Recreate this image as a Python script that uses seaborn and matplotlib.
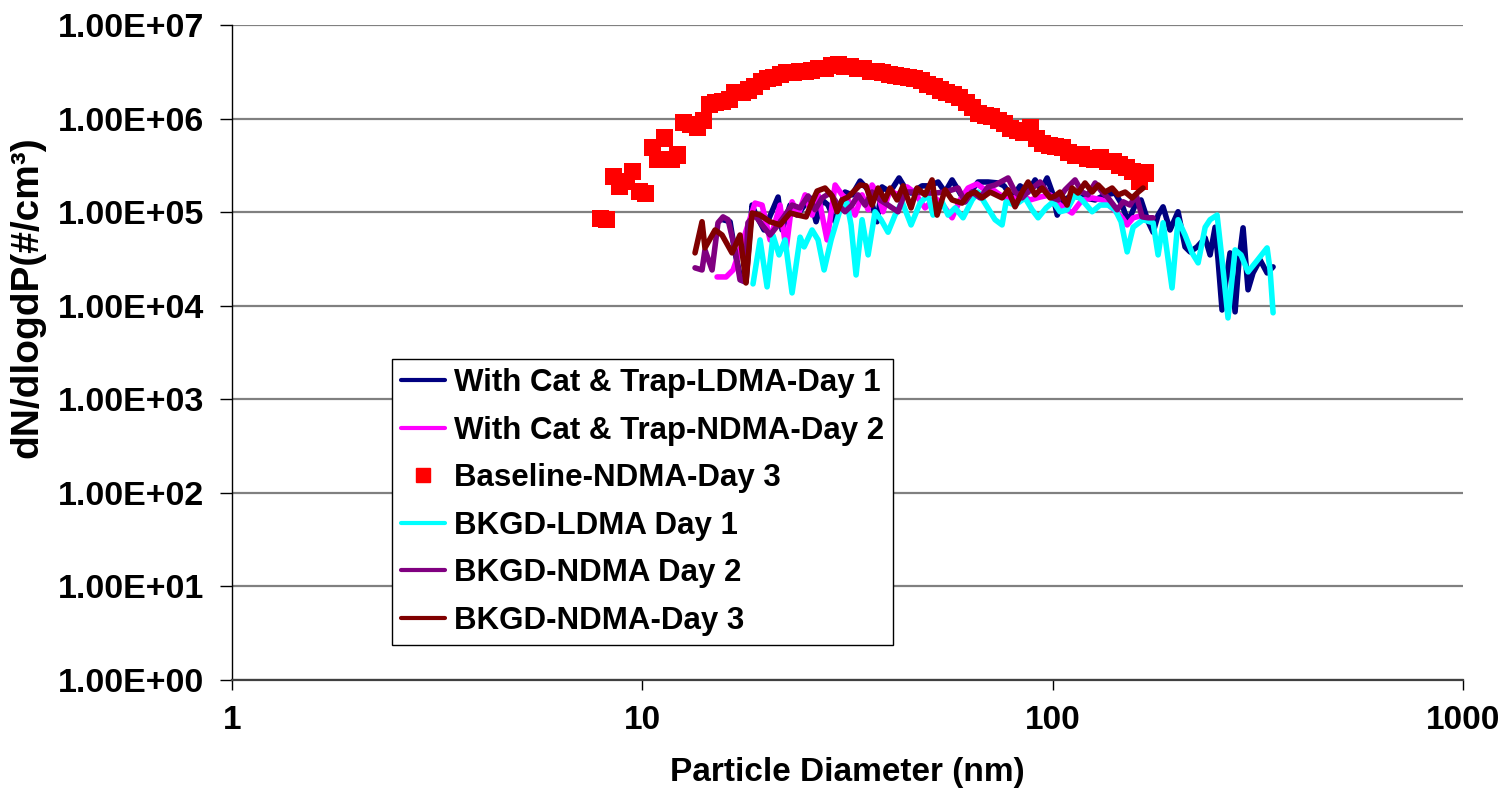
import numpy as np
import pandas as pd
import matplotlib
matplotlib.use("Agg")
import matplotlib.pyplot as plt
import seaborn as sns
from matplotlib.lines import Line2D
from matplotlib.ticker import FixedLocator, FuncFormatter, NullLocator

# ---- particle size distributions (diameter in nm, dN/dlogDp in #/cm3) ----
cat_ldma_d1_dp = [15.73, 16.36, 16.83, 17.40, 17.89, 18.51, 18.93, 19.80, 21.42, 21.90,
                  22.91, 23.83, 25.63, 26.51, 27.42, 28.36, 29.50, 31.19, 32.44, 33.94,
                  35.5, 37.33, 38.39, 40.15, 42.23, 43.68, 45.18, 48.06, 50.26, 52.57,
                  54.68, 56.87, 58.81, 61.16, 63.62, 65.79, 69.6, 73.61, 76.14, 79.63,
                  83.29, 87.12, 90.62, 93.72, 96.93, 99.71, 102.6, 106.0, 111.5, 119.9,
                  126.9, 134.2, 142.0, 147.7, 152.7, 158.9, 164.2, 170.9, 175.7, 180.7,
                  185.8, 193.2, 202.1, 210.2, 216.2, 224.9, 235.3, 241.9, 248.8, 253.0,
                  258.7, 264.6, 270.6, 278.3, 284.6, 291.1, 299.3, 307.8, 320.2, 333.1,
                  344.5]
cat_ldma_d1_dn = [8.3e4, 7.9e4, 3.67e4, 1.89e4, 1.80e4, 1.19e5, 9.3e4, 6.45e4, 1.45e5, 6.45e4,
                  1.19e5, 9.3e4, 1.42e5, 7.9e4, 1.35e5, 1.19e5, 7.9e4, 1.64e5, 1.53e5, 2.15e5,
                  1.73e5, 7.9e4, 1.86e5, 1.64e5, 2.32e5, 1.81e5, 1.60e5, 1.91e5, 1.91e5, 2.10e5,
                  1.64e5, 2.21e5, 1.73e5, 1.29e5, 1.73e5, 2.10e5, 2.10e5, 2.05e5, 1.91e5, 1.42e5,
                  1.91e5, 1.64e5, 2.21e5, 1.73e5, 2.32e5, 1.64e5, 9.3e4, 1.35e5, 1.49e5, 1.42e5,
                  1.35e5, 1.53e5, 1.60e5, 1.19e5, 7.9e4, 1.19e5, 1.35e5, 7.9e4, 6.1e4, 9.3e4,
                  1.14e5, 6.45e4, 1.01e5, 4.25e4, 3.76e4, 4.25e4, 5.3e4, 3.49e4, 6.9e4, 3.09e4,
                  9.0e3, 1.89e4, 3.67e4, 8.6e3, 3.09e4, 6.8e4, 1.48e4, 2.24e4, 3.09e4, 2.24e4,
                  2.60e4]

cat_ndma_d2_dp = [15.21, 16.0, 16.64, 17.30, 18.09, 18.82, 19.58, 20.48, 21.66, 22.40,
                  23.17, 23.96, 24.93, 25.92, 26.81, 28.20, 29.50, 30.67, 31.72, 32.99,
                  34.32, 35.5, 36.30, 37.54, 38.6, 40.15, 41.76, 44.18, 45.95, 48.87,
                  51.69, 54.07, 56.87, 59.47, 62.2, 65.42, 68.44, 71.57, 74.44, 78.74,
                  83.29, 88.1, 93.2, 98.6, 104.2, 111.5, 117.9, 124.8, 132.0, 139.6,
                  147.7, 151.9, 157.1, 163.3]
cat_ndma_d2_dn = [2.03e4, 2.03e4, 2.41e4, 3.95e4, 7.3e4, 1.25e5, 1.19e5, 5.05e4, 1.19e5, 3.95e4,
                  1.29e5, 9.3e4, 1.53e5, 9.3e4, 1.53e5, 5.05e4, 1.95e5, 1.53e5, 1.35e5, 9.3e4,
                  1.53e5, 1.06e5, 1.95e5, 1.53e5, 1.01e5, 1.73e5, 1.53e5, 1.86e5, 1.64e5, 1.11e5,
                  1.42e5, 1.19e5, 8.7e4, 1.35e5, 1.81e5, 2.00e5, 1.73e5, 1.73e5, 1.53e5, 1.35e5,
                  1.53e5, 1.35e5, 1.45e5, 1.53e5, 1.19e5, 9.8e4, 1.35e5, 1.42e5, 1.35e5, 1.11e5,
                  8.7e4, 7.3e4, 8.7e4, 9.1e4]

baseline_d3_dp = [7.91, 8.20, 8.51, 8.82, 9.14, 9.47, 9.82, 10.2, 10.6, 10.9,
                  11.3, 11.8, 12.2, 12.6, 13.1, 13.6, 14.1, 14.6, 15.1, 15.7,
                  16.3, 16.8, 17.5, 18.1, 18.8, 19.5, 20.2, 20.9, 21.7, 22.5,
                  23.3, 24.1, 25.0, 25.9, 26.9, 27.9, 28.9, 30.0, 31.1, 32.2,
                  33.4, 34.6, 35.9, 37.2, 38.5, 40.0, 41.4, 42.9, 44.5, 46.1,
                  47.8, 49.6, 51.4, 53.3, 55.2, 57.3, 59.4, 61.5, 63.8, 66.1,
                  68.5, 71.0, 73.7, 76.4, 79.1, 82.0, 85.1, 88.2, 91.4, 94.7,
                  98.2, 101.8, 105.5, 109.4, 113.4, 117.6, 121.9, 126.3, 131.0, 135.8,
                  140.7, 145.9, 151.2, 156.8, 162.5, 168.5]
baseline_d3_dn = [8.46e4, 8.26e4, 2.38e5, 1.86e5, 2.15e5, 2.75e5, 1.68e5, 1.60e5, 4.85e5, 3.61e5,
                  6.2e5, 3.61e5, 4.08e5, 8.97e5, 8.54e5, 7.94e5, 9.43e5, 1.43e6, 1.50e6, 1.54e6,
                  1.58e6, 1.88e6, 1.88e6, 2.02e6, 2.18e6, 2.52e6, 2.71e6, 2.78e6, 2.99e6, 3.07e6,
                  3.07e6, 3.15e6, 3.22e6, 3.30e6, 3.39e6, 3.47e6, 3.65e6, 3.74e6, 3.56e6, 3.56e6,
                  3.47e6, 3.39e6, 3.22e6, 3.15e6, 3.07e6, 2.99e6, 2.92e6, 2.85e6, 2.78e6, 2.65e6,
                  2.58e6, 2.34e6, 2.18e6, 2.02e6, 1.88e6, 1.79e6, 1.66e6, 1.47e6, 1.30e6, 1.12e6,
                  1.07e6, 1.04e6, 9.43e5, 8.76e5, 7.74e5, 7.38e5, 7.02e5, 7.94e5, 6.05e5, 5.48e5,
                  5.10e5, 4.98e5, 4.87e5, 4.29e5, 4.08e5, 4.18e5, 3.70e5, 3.61e5, 3.79e5, 3.44e5,
                  3.44e5, 3.19e5, 2.97e5, 2.75e5, 2.10e5, 2.62e5]

bkgd_ldma_d1_dp = [18.61, 19.36, 20.14, 20.83, 21.54, 22.28, 23.17, 24.24, 24.79, 25.92,
                   26.81, 27.73, 28.84, 30.33, 31.54, 32.26, 33.18, 34.32, 35.5, 36.91,
                   38.17, 39.7, 41.29, 42.95, 45.18, 47.52, 49.70, 51.11, 53.76, 55.6,
                   57.83, 60.48, 63.62, 65.79, 68.82, 72.38, 75.28, 77.0, 80.98, 85.66,
                   89.1, 92.16, 96.38, 100.3, 104.2, 108.4, 113.4, 117.9, 124.8, 130.5,
                   136.5, 142.0, 146.8, 151.9, 157.1, 166.1, 175.7, 180.7, 185.8, 195.4,
                   202.1, 210.2, 218.6, 226.2, 235.3, 241.9, 251.6, 258.7, 267.5, 278.3,
                   287.8, 299.3, 313.1, 333.1, 338.7, 344.5]
bkgd_ldma_d1_dn = [1.71e4, 5.05e4, 1.59e4, 5.6e4, 3.49e4, 5.05e4, 1.37e4, 5.4e4, 4.25e4, 6.45e4,
                   5.05e4, 2.41e4, 5.05e4, 1.06e5, 1.25e5, 7.3e4, 2.13e4, 8.3e4, 3.49e4, 1.01e5,
                   8.3e4, 6.1e4, 9.3e4, 1.29e5, 7.3e4, 1.25e5, 1.53e5, 9.3e4, 1.29e5, 9.3e4,
                   1.11e5, 8.7e4, 1.35e5, 1.64e5, 1.19e5, 8.3e4, 7.3e4, 1.29e5, 1.19e5, 1.42e5,
                   1.06e5, 8.7e4, 1.11e5, 1.29e5, 1.01e5, 1.06e5, 1.53e5, 1.35e5, 1.01e5, 1.19e5,
                   1.19e5, 1.06e5, 7.9e4, 3.76e4, 6.9e4, 8.3e4, 7.7e4, 3.49e4, 7.7e4, 1.55e4,
                   8.3e4, 5.7e4, 3.67e4, 2.87e4, 6.9e4, 8.3e4, 9.3e4, 3.09e4, 7.4e3, 3.95e4,
                   3.49e4, 2.30e4, 2.94e4, 4.15e4, 2.41e4, 8.4e3]

bkgd_ndma_d2_dp = [13.44, 13.98, 14.21, 14.79, 15.29, 15.73, 16.18, 16.83, 17.30, 17.79,
                   18.09, 18.82, 19.58, 20.48, 21.42, 22.28, 23.17, 24.24, 25.35, 26.36,
                   27.42, 28.68, 30.0, 31.19, 32.44, 33.55, 34.91, 36.30, 37.96, 39.7,
                   41.99, 43.68, 45.95, 48.87, 51.69, 54.68, 58.81, 61.16, 63.62, 66.54,
                   69.6, 72.38, 77.87, 80.98, 84.23, 88.1, 93.2, 98.6, 103.2, 107.2,
                   113.4, 117.9, 121.9, 126.9, 132.0, 136.5, 143.6, 148.5, 154.4, 159.8,
                   165.2, 170.9, 175.7]
bkgd_ndma_d2_dn = [2.54e4, 2.41e4, 3.95e4, 2.41e4, 7.7e4, 8.9e4, 8.3e4, 3.95e4, 1.89e4, 1.80e4,
                   7.7e4, 9.3e4, 7.3e4, 5.7e4, 7.3e4, 9.3e4, 1.19e5, 1.11e5, 1.49e5, 1.06e5,
                   1.42e5, 1.60e5, 1.19e5, 1.01e5, 1.19e5, 1.53e5, 1.19e5, 1.64e5, 1.35e5, 1.19e5,
                   1.01e5, 1.64e5, 1.64e5, 1.60e5, 1.60e5, 1.64e5, 1.81e5, 1.29e5, 1.64e5, 1.42e5,
                   1.86e5, 1.95e5, 2.32e5, 1.64e5, 1.42e5, 1.73e5, 2.10e5, 1.45e5, 1.35e5, 1.73e5,
                   2.21e5, 1.64e5, 1.53e5, 2.05e5, 1.64e5, 1.42e5, 1.06e5, 1.29e5, 1.19e5, 1.53e5,
                   8.9e4, 8.7e4, 8.7e4]

bkgd_ndma_d3_dp = [13.44, 13.98, 14.21, 15.04, 15.64, 16.54, 17.30, 17.89, 18.51, 19.36,
                   20.48, 21.66, 22.91, 23.96, 25.07, 25.63, 26.66, 27.88, 29.00, 29.84,
                   30.67, 31.72, 32.62, 33.94, 35.1, 36.30, 37.54, 39.04, 40.15, 41.76,
                   43.19, 45.18, 46.72, 48.87, 50.83, 52.27, 54.68, 56.87, 60.14, 62.2,
                   64.69, 67.29, 70.38, 75.28, 77.87, 80.98, 84.23, 87.12, 90.62, 94.25,
                   98.6, 101.4, 104.2, 108.4, 111.5, 115.3, 119.9, 124.8, 129.1, 134.2,
                   139.6, 144.4, 150.2, 156.2, 161.6, 166.1]
bkgd_ndma_d3_dn = [3.67e4, 7.9e4, 4.15e4, 6.45e4, 5.7e4, 3.67e4, 5.7e4, 1.75e4, 9.8e4, 9.3e4,
                   7.9e4, 7.3e4, 9.8e4, 9.3e4, 8.9e4, 1.14e5, 1.68e5, 1.81e5, 1.49e5, 1.01e5,
                   1.35e5, 1.45e5, 1.64e5, 1.95e5, 1.91e5, 1.19e5, 1.81e5, 1.35e5, 1.81e5, 1.35e5,
                   1.91e5, 1.11e5, 1.81e5, 1.53e5, 2.21e5, 9.3e4, 1.73e5, 1.35e5, 1.25e5, 1.53e5,
                   1.64e5, 1.42e5, 1.64e5, 1.42e5, 1.73e5, 1.14e5, 1.64e5, 2.10e5, 1.53e5, 1.81e5,
                   1.42e5, 1.49e5, 1.64e5, 1.19e5, 1.81e5, 1.60e5, 2.05e5, 1.64e5, 1.95e5, 1.64e5,
                   1.81e5, 1.53e5, 1.64e5, 1.42e5, 1.64e5, 1.81e5]

series_names = ["With Cat & Trap-LDMA-Day 1", "With Cat & Trap-NDMA-Day 2",
                "Baseline-NDMA-Day 3", "BKGD-LDMA Day 1", "BKGD-NDMA Day 2",
                "BKGD-NDMA-Day 3"]
series_colors = ["#000080", "#FF00FF", "#FF0000", "#00FFFF", "#800080", "#800000"]

x_ticks = [1, 10, 100, 1000]
y_ticks = [1e0, 1e1, 1e2, 1e3, 1e4, 1e5, 1e6, 1e7]

# ---- long-form tables for seaborn ----
line_sets = [
    (series_names[0], cat_ldma_d1_dp, cat_ldma_d1_dn),
    (series_names[1], cat_ndma_d2_dp, cat_ndma_d2_dn),
    (series_names[3], bkgd_ldma_d1_dp, bkgd_ldma_d1_dn),
    (series_names[4], bkgd_ndma_d2_dp, bkgd_ndma_d2_dn),
    (series_names[5], bkgd_ndma_d3_dp, bkgd_ndma_d3_dn),
]
frames = []
for name, dp, dn in line_sets:
    frames.append(pd.DataFrame({"series": name, "dp": dp, "dn": dn}))
lines_df = pd.concat(frames, ignore_index=True)
baseline_df = pd.DataFrame({"dp": baseline_d3_dp, "dn": baseline_d3_dn})

palette = dict(zip(series_names, series_colors))
line_order = [s[0] for s in line_sets]

sns.set_theme(style="white")
plt.rcParams["font.family"] = ["Liberation Sans", "DejaVu Sans"]
plt.rcParams["font.weight"] = "bold"
for key in ("text.color", "axes.labelcolor", "xtick.color", "ytick.color"):
    plt.rcParams[key] = "black"

fig = plt.figure(figsize=(15.03, 7.99), dpi=100)
ax = fig.add_axes([232 / 1503, 1 - 680 / 799, 1231 / 1503, 655 / 799])

ax.set_xscale("log")
ax.set_yscale("log")

sns.lineplot(data=lines_df, x="dp", y="dn", hue="series", hue_order=line_order,
             palette=palette, units="series", estimator=None, sort=False,
             linewidth=4.0, legend=False, ax=ax)
for ln, z in zip(ax.lines, [2.1, 2.2, 2.6, 2.7, 2.8]):
    ln.set_zorder(z)
    ln.set_solid_joinstyle("round")
    ln.set_solid_capstyle("round")

sns.scatterplot(data=baseline_df, x="dp", y="dn", marker="s", s=150,
                color=series_colors[2], edgecolor="none", linewidth=0,
                zorder=2.3, legend=False, ax=ax)

ax.set_xlim(1, 1000)
ax.set_ylim(1, 1e7)

ax.xaxis.set_major_locator(FixedLocator(x_ticks))
ax.xaxis.set_minor_locator(NullLocator())
ax.xaxis.set_major_formatter(FuncFormatter(lambda v, p: f"{v:g}"))
ax.yaxis.set_major_locator(FixedLocator(y_ticks))
ax.yaxis.set_minor_locator(NullLocator())
ax.yaxis.set_major_formatter(FuncFormatter(lambda v, p: f"{v:.2E}"))

ax.grid(axis="y", color="#808080", linewidth=1.6, zorder=0)
ax.grid(axis="x", visible=False)
ax.set_axisbelow(True)

for side in ("top", "right"):
    ax.spines[side].set_visible(False)
ax.spines["left"].set_color("black")
ax.spines["left"].set_linewidth(1.0)
ax.spines["bottom"].set_color("#404040")
ax.spines["bottom"].set_linewidth(1.6)

ax.tick_params(axis="y", which="major", direction="out", length=9, width=1,
               color="black", labelcolor="black", labelsize=24.5, pad=11, left=True)
ax.tick_params(axis="x", which="major", direction="out", length=7, width=1,
               color="black", labelcolor="black", labelsize=24, pad=11, bottom=True)
for lab in ax.get_xticklabels() + ax.get_yticklabels():
    lab.set_fontweight("bold")

ax.set_xlabel("Particle Diameter (nm)", fontsize=24, fontweight="bold", color="black")
ax.set_ylabel("dN/dlogdP(#/cm\u00b3)", fontsize=28, fontweight="bold", color="black")
ax.xaxis.set_label_coords(0.5, -0.117)
ax.yaxis.set_label_coords(-0.152, 0.585)

handles = []
for name, color in zip(series_names, series_colors):
    if name == series_names[2]:
        handles.append(Line2D([], [], linestyle="none", marker="s", markersize=10,
                              markerfacecolor=color, markeredgecolor=color))
    else:
        handles.append(Line2D([], [], color=color, linewidth=3.0))
leg = ax.legend(handles, series_names, loc="upper left", bbox_to_anchor=(0.130, 0.490),
                borderaxespad=0, frameon=True, fancybox=False, edgecolor="black",
                framealpha=1, prop={"size": 22.5, "weight": "bold"}, handlelength=1.4,
                handletextpad=0.28, borderpad=0.3, labelspacing=0.56)
leg.get_frame().set_linewidth(1.0)
for t in leg.get_texts():
    t.set_color("black")

fig.savefig("out.png", dpi=100)
